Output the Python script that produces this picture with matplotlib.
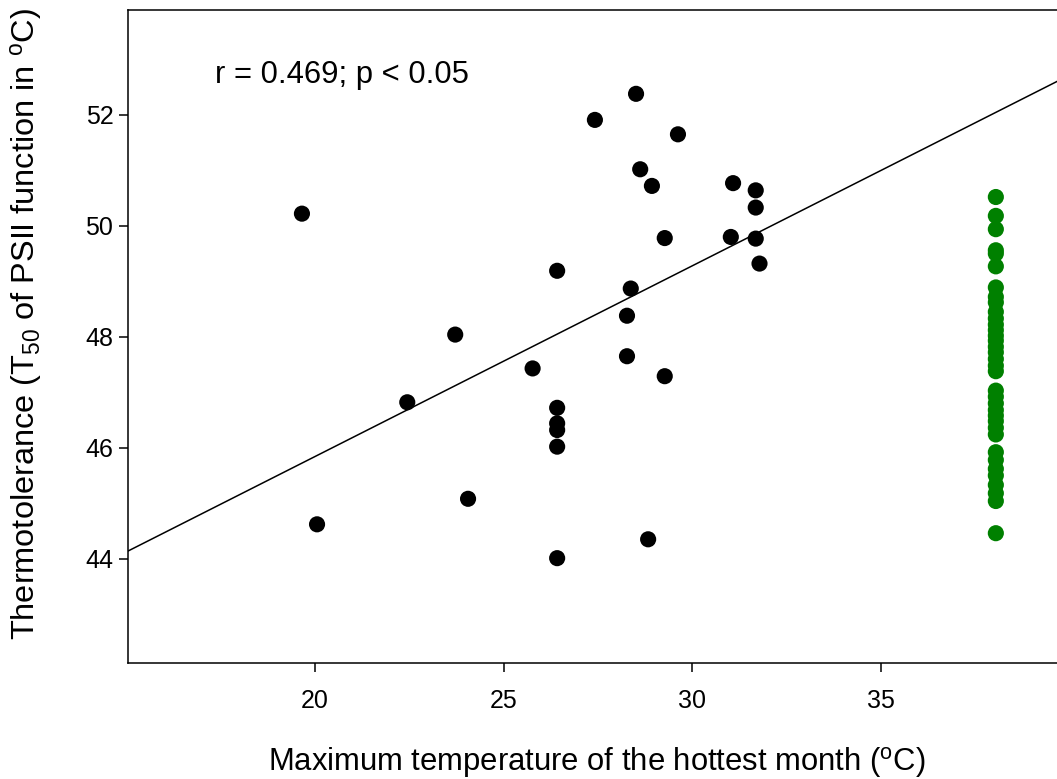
import numpy as np
import matplotlib
matplotlib.use("Agg")
import matplotlib.pyplot as plt

plt.rcParams['font.family'] = ['Liberation Sans', 'DejaVu Sans']
plt.rcParams['mathtext.fontset'] = 'custom'
plt.rcParams['mathtext.rm'] = 'Liberation Sans'
plt.rcParams['mathtext.it'] = 'Liberation Sans:italic'

# black points: site max temperature vs T50
tmax = [19.66, 20.06, 22.45, 23.72, 24.06, 25.77, 26.42, 26.42, 26.42, 26.42,
        26.42, 26.42, 27.42, 28.51, 28.62, 28.93, 29.62, 28.37, 28.27, 28.27,
        29.27, 29.27, 28.83, 31.08, 31.02, 31.68, 31.68, 31.68, 31.78]
t50 = [50.22, 44.62, 46.82, 48.04, 45.08, 47.43, 49.19, 46.72, 46.44, 46.32,
       46.02, 44.01, 51.91, 52.38, 51.02, 50.72, 51.65, 48.87, 48.38, 47.65,
       49.78, 47.29, 44.35, 50.77, 49.80, 50.64, 50.33, 49.77, 49.32]

# green column
green_x = 38.04
green_t50 = [50.52, 50.18, 49.94, 49.56, 49.50, 49.27,
             48.89, 48.72, 48.62, 48.45, 48.33, 48.22, 48.12, 48.02, 47.93,
             47.82, 47.72, 47.60, 47.48, 47.38,
             47.03, 46.92, 46.80, 46.68, 46.58, 46.48, 46.36, 46.24,
             45.92, 45.78, 45.62, 45.50, 45.33, 45.18, 45.04, 44.46]

# regression line
slope = 0.344
intercept = 38.96

xlim = (15.05, 39.66)
ylim = (42.12, 53.9)
xticks = [20, 25, 30, 35]
yticks = [44, 46, 48, 50, 52]

fig = plt.figure(figsize=(10.57, 7.79), dpi=100)
ax = fig.add_axes([0.121, 0.1489, 0.879, 0.8389])

xl = np.array(xlim)
ax.plot(xl, intercept + slope * xl, color='black', linewidth=1.1, zorder=2)
ax.scatter(tmax, t50, s=135, color='black', edgecolors='none', zorder=3)
ax.scatter([green_x] * len(green_t50), green_t50, s=135, color='#008000',
           edgecolors='none', zorder=3)

ax.set_xlim(xlim)
ax.set_ylim(ylim)
ax.set_xticks(xticks)
ax.set_yticks(yticks)
ax.tick_params(axis='both', labelsize=18, length=6.5, width=1.1, direction='out')
ax.tick_params(axis='x', pad=12)
ax.tick_params(axis='y', pad=4)
for s in ['left', 'top', 'bottom']:
    ax.spines[s].set_linewidth(1.1)
ax.spines['right'].set_visible(False)

ax.set_xlabel('Maximum temperature of the hottest month ($^{\\mathrm{o}}$C)', fontsize=22.3)
ax.set_ylabel('Thermotolerance (T$_{\\mathrm{50}}$ of PSII function in $^{\\mathrm{o}}$C)', fontsize=23.4)
ax.xaxis.set_label_coords(0.505, -0.126)
ax.yaxis.set_label_coords(-0.089, 0.519)

ax.text(0.0935, 0.9, 'r = 0.469; p < 0.05', transform=ax.transAxes,
        fontsize=22.3, ha='left', va='center')

fig.savefig('out.png', dpi=100)
